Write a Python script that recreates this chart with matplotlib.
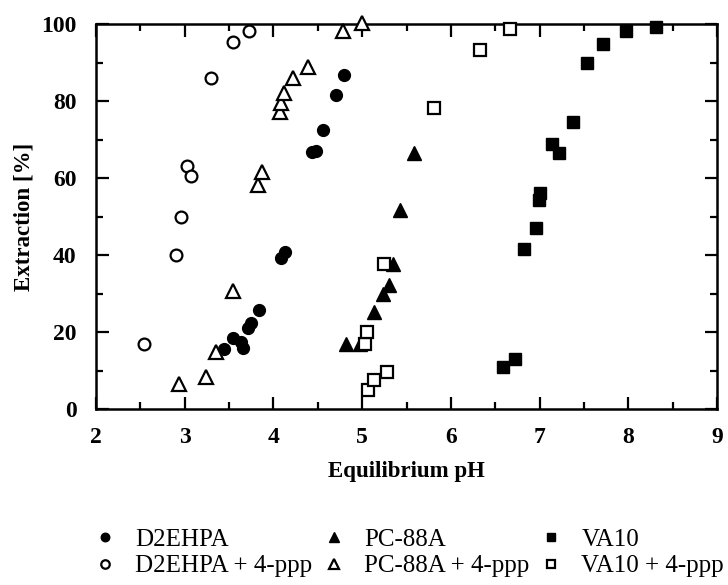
import matplotlib
matplotlib.use('Agg')
import matplotlib.pyplot as plt
from matplotlib.ticker import MultipleLocator

plt.rcParams['font.family'] = ['Liberation Serif', 'DejaVu Serif']

# D2EHPA (filled circles)
d2_ph = [3.44, 3.54, 3.64, 3.66, 3.71, 3.75, 3.84, 4.09, 4.13, 4.44, 4.48, 4.56, 4.70, 4.80]
d2_ext = [15.6, 18.4, 17.3, 15.8, 21.0, 22.4, 25.7, 39.3, 40.9, 66.8, 67.0, 72.5, 81.5, 86.7]
# D2EHPA + 4-ppp (open circles)
d2p_ph = [2.54, 2.90, 2.96, 3.03, 3.07, 3.30, 3.54, 3.72]
d2p_ext = [16.9, 40.0, 50.0, 63.0, 60.5, 86.0, 95.3, 98.3]
# PC-88A (filled triangles)
pc_ph = [4.82, 4.98, 5.13, 5.24, 5.30, 5.35, 5.43, 5.59]
pc_ext = [17.0, 17.0, 25.1, 30.0, 32.2, 37.6, 51.7, 66.4]
# PC-88A + 4-ppp (open triangles)
pcp_ph = [2.93, 3.24, 3.35, 3.54, 3.83, 3.87, 4.07, 4.08, 4.12, 4.22, 4.39, 4.78, 5.00]
pcp_ext = [6.6, 8.4, 14.9, 30.7, 58.2, 61.6, 77.2, 79.4, 82.0, 86.1, 88.9, 98.2, 100.3]
# VA10 (filled squares)
va_ph = [6.59, 6.72, 6.82, 6.96, 6.99, 7.01, 7.14, 7.22, 7.38, 7.54, 7.71, 7.97, 8.31]
va_ext = [11.0, 13.1, 41.5, 47.1, 54.4, 56.0, 68.8, 66.4, 74.6, 89.8, 94.7, 98.2, 99.3]
# VA10 + 4-ppp (open squares)
vap_ph = [5.07, 5.13, 5.28, 5.03, 5.06, 5.25, 5.81, 6.33, 6.67]
vap_ext = [4.9, 7.5, 9.7, 17.0, 19.9, 37.6, 78.3, 93.2, 98.6]

fig = plt.figure(figsize=(7.28, 5.85), dpi=100)
ax = fig.add_axes([96 / 728, 1 - 409 / 585, 621 / 728, 385 / 585])

ms = 8.5
kw = dict(linestyle='none', clip_on=False, zorder=3)
h1, = ax.plot(d2_ph, d2_ext, marker='o', ms=ms, color='black', label='D2EHPA', **kw)
h2, = ax.plot(d2p_ph, d2p_ext, marker='o', ms=ms, mfc='white', mec='black', mew=1.6,
              label='D2EHPA + 4-ppp', **kw)
h3, = ax.plot(pc_ph, pc_ext, marker='^', ms=ms + 1, color='black', label='PC-88A', **kw)
h4, = ax.plot(pcp_ph, pcp_ext, marker='^', ms=ms + 1, mfc='white', mec='black', mew=1.6,
              label='PC-88A + 4-ppp', **kw)
h5, = ax.plot(va_ph, va_ext, marker='s', ms=ms, color='black', label='VA10', **kw)
h6, = ax.plot(vap_ph, vap_ext, marker='s', ms=ms, mfc='white', mec='black', mew=1.6,
              label='VA10 + 4-ppp', **kw)

ax.set_xlim(2, 9)
ax.set_ylim(0, 100)
ax.xaxis.set_major_locator(MultipleLocator(1))
ax.xaxis.set_minor_locator(MultipleLocator(0.5))
ax.yaxis.set_major_locator(MultipleLocator(20))
ax.yaxis.set_minor_locator(MultipleLocator(10))
ax.tick_params(which='both', direction='in', top=True, right=True, width=1.6)
ax.tick_params(which='major', length=9, labelsize=17)
ax.tick_params(axis='x', which='major', pad=13)
ax.tick_params(axis='y', which='major', pad=14)
ax.tick_params(which='minor', length=5)
for lbl in ax.get_xticklabels() + ax.get_yticklabels():
    lbl.set_fontweight('bold')
for sp in ax.spines.values():
    sp.set_linewidth(1.8)

ax.set_xlabel('Equilibrium pH', fontsize=16.5, fontweight='bold', labelpad=9)
ax.set_ylabel('Extraction [%]', fontsize=16.5, fontweight='bold', labelpad=5)

fig.legend(handles=[h1, h2, h3, h4, h5, h6], ncol=3, loc='upper left',
           bbox_to_anchor=(70 / 728, 1 - 506 / 585), frameon=False, fontsize=18,
           markerscale=0.72, handlelength=1.0, handletextpad=0.7,
           columnspacing=0.38, labelspacing=0.15, borderpad=0.4)

fig.savefig('out.png', dpi=100)
